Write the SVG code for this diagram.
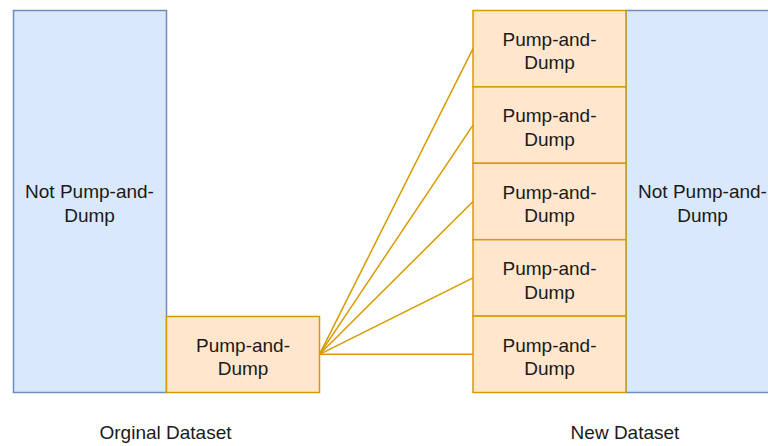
<svg xmlns="http://www.w3.org/2000/svg" width="768" height="446" viewBox="0 0 768 446">
<style>
.blue{fill:#dae8fc;stroke:#6c8ebf;stroke-width:1.5}
.orange{fill:#ffe6cc;stroke:#d79b00;stroke-width:1.5}
.t{font-family:"Liberation Sans",Arial,sans-serif;font-size:19px;fill:#1a1a1a;text-anchor:middle}
.edge{stroke:#d79b00;stroke-width:1.5;fill:none}
</style>
<rect width="768" height="446" fill="#ffffff"/>
<g id="orig-not">
<rect class="blue" x="13.5" y="10.5" width="153" height="382"/>
<text class="t" x="89.5" y="198">Not Pump-and-</text>
<text class="t" x="89.5" y="221.5">Dump</text>
</g>
<g id="orig-pd">
<rect class="orange" x="166.5" y="316.5" width="153" height="76"/>
<text class="t" x="243" y="351.7">Pump-and-</text>
<text class="t" x="243" y="375">Dump</text>
</g>
<g id="new-not">
<rect class="blue" x="626" y="10.5" width="153" height="382"/>
<text class="t" x="702.5" y="198">Not Pump-and-</text>
<text class="t" x="702.5" y="221.5">Dump</text>
</g>
<g id="new-pd1">
<rect class="orange" x="473" y="10.5" width="153" height="76.4"/>
<text class="t" x="549.5" y="46">Pump-and-</text>
<text class="t" x="549.5" y="69.3">Dump</text>
</g>
<g id="new-pd2">
<rect class="orange" x="473" y="86.9" width="153" height="76.4"/>
<text class="t" x="549.5" y="122.4">Pump-and-</text>
<text class="t" x="549.5" y="145.7">Dump</text>
</g>
<g id="new-pd3">
<rect class="orange" x="473" y="163.3" width="153" height="76.4"/>
<text class="t" x="549.5" y="198.8">Pump-and-</text>
<text class="t" x="549.5" y="222.1">Dump</text>
</g>
<g id="new-pd4">
<rect class="orange" x="473" y="239.7" width="153" height="76.4"/>
<text class="t" x="549.5" y="275.2">Pump-and-</text>
<text class="t" x="549.5" y="298.5">Dump</text>
</g>
<g id="new-pd5">
<rect class="orange" x="473" y="316.1" width="153" height="76.4"/>
<text class="t" x="549.5" y="351.6">Pump-and-</text>
<text class="t" x="549.5" y="374.9">Dump</text>
</g>
<g id="connectors">
<line class="edge" x1="319.5" y1="354.3" x2="473" y2="48.7"/>
<line class="edge" x1="319.5" y1="354.3" x2="473" y2="125.1"/>
<line class="edge" x1="319.5" y1="354.3" x2="473" y2="201.5"/>
<line class="edge" x1="319.5" y1="354.3" x2="473" y2="277.9"/>
<line class="edge" x1="319.5" y1="354.3" x2="473" y2="354.3"/>
</g>
<g id="labels">
<text class="t" x="165.5" y="439">Orginal Dataset</text>
<text class="t" x="625" y="439">New Dataset</text>
</g>
</svg>
